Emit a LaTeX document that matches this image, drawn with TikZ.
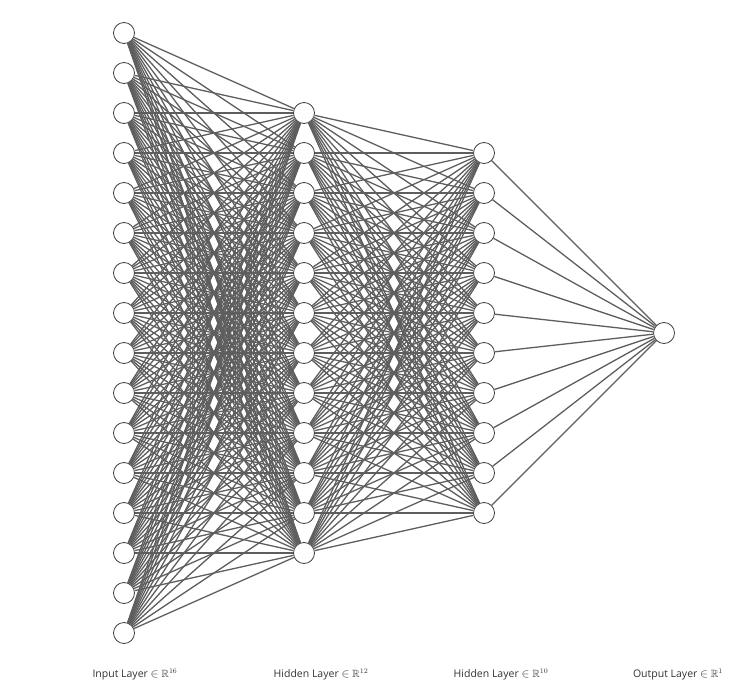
\documentclass[tikz,border=0pt]{standalone}
\usepackage{amsmath,amssymb}
\usepackage{fontspec}
\setmainfont{Open Sans}
\begin{document}
\begin{tikzpicture}[x=1pt,y=-1pt,
  neuron/.style={circle,draw=black!75,fill=white,line width=0.8pt,minimum size=21pt,inner sep=0pt},
  edge/.style={draw=black!63,line width=1.3pt},
  lbl/.style={font=\fontsize{10.5}{12}\selectfont,text=black!80,anchor=base}]
\useasboundingbox (0,0) rectangle (741,695);
\foreach \i in {1,...,16} \node[neuron] (a\i) at (124,{33+40*(\i-1)}) {};
\foreach \i in {1,...,12} \node[neuron] (b\i) at (304,{113+40*(\i-1)}) {};
\foreach \i in {1,...,10} \node[neuron] (c\i) at (484,{153+40*(\i-1)}) {};
\node[neuron] (d1) at (664,333) {};
\foreach \i in {1,...,16} \foreach \j in {1,...,12} \draw[edge] (a\i) -- (b\j);
\foreach \i in {1,...,12} \foreach \j in {1,...,10} \draw[edge] (b\i) -- (c\j);
\foreach \i in {1,...,10} \draw[edge] (c\i) -- (d1);
\node[lbl] (l1) at (135,677) {Input Layer {\large$\in$} $\mathbb{R}^{16}$};
\node[lbl] (l2) at (321,677) {Hidden Layer {\large$\in$} $\mathbb{R}^{12}$};
\node[lbl] (l3) at (501,677) {Hidden Layer {\large$\in$} $\mathbb{R}^{10}$};
\node[lbl] (l4) at (678,677) {Output Layer {\large$\in$} $\mathbb{R}^{1}$};
\end{tikzpicture}
\end{document}
